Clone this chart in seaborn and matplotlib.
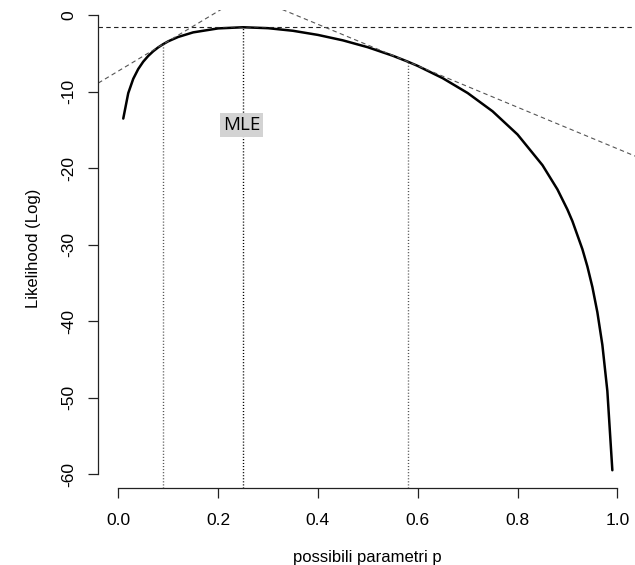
import matplotlib.pyplot as plt
import seaborn as sns

sns.set_style("ticks")
plt.rcParams["font.family"] = ["Liberation Sans", "DejaVu Sans"]
plt.rcParams["text.color"] = "black"
plt.rcParams["axes.labelcolor"] = "black"
plt.rcParams["xtick.labelcolor"] = "black"
plt.rcParams["ytick.labelcolor"] = "black"

# Log-likelihood curve
p_values = [0.01, 0.02, 0.03, 0.04, 0.05, 0.06, 0.07, 0.08, 0.09, 0.10, 0.12, 0.15,
            0.20, 0.25, 0.30, 0.35, 0.40, 0.45, 0.50, 0.55, 0.58, 0.60, 0.65, 0.70,
            0.75, 0.80, 0.85, 0.88, 0.90, 0.91, 0.93, 0.94, 0.95, 0.96, 0.97, 0.98, 0.99]
log_lik = [-13.53, -10.21, -8.34, -7.06, -6.10, -5.35, -4.74, -4.23, -3.81, -3.44, -2.87, -2.27,
           -1.75, -1.60, -1.72, -2.06, -2.60, -3.31, -4.21, -5.32, -6.09, -6.65, -8.25, -10.19,
           -12.58, -15.61, -19.62, -22.79, -25.42, -26.94, -30.60, -32.86, -35.54, -38.84, -43.10, -49.13, -59.48]

# MLE and the two tangent points
mle_p = 0.25
mle_value = -1.60
tangent_p = [0.09, 0.58]
tangent_value = [-3.81, -6.09]
tangent_slope = [39.07, -27.09]

x_ticks = [0.0, 0.2, 0.4, 0.6, 0.8, 1.0]
y_ticks = [0, -10, -20, -30, -40, -50, -60]
x_limits = (-0.04, 1.04)
y_limits = (-61.8, 0.72)

fig = plt.figure(figsize=(6.35, 5.65), dpi=100)
ax = fig.add_axes([98.3 / 635, 77 / 565, 539 / 635, 478.5 / 565])

sns.lineplot(x=p_values, y=log_lik, color="black", linewidth=1.8, ax=ax)

# Max likelihood line and tangents
ax.axhline(mle_value, color="#222222", linestyle=(0, (4, 3)), linewidth=0.8)
for tp, tv, ts in zip(tangent_p, tangent_value, tangent_slope):
    ax.axline((tp, tv), slope=ts, color="#555555", linestyle=(0, (4, 3)), linewidth=0.8)

# Vertical dotted lines
ax.vlines(tangent_p, y_limits[0], tangent_value, color="#555555", linestyle=(0, (0.8, 1.4)), linewidth=1.0)
ax.vlines(mle_p, y_limits[0], mle_value, color="black", linestyle=(0, (0.8, 1.4)), linewidth=1.0)

ax.text(0.247, -14.4, "MLE", family=["Open Sans", "DejaVu Sans"], fontsize=13.5, color="black",
        ha="center", va="center",
        bbox=dict(boxstyle="square,pad=0.15", facecolor="#d3d3d3", edgecolor="none"))

ax.set_xlim(x_limits)
ax.set_ylim(y_limits)
ax.set_xticks(x_ticks)
ax.set_xticklabels([f"{t:.1f}" for t in x_ticks])
ax.set_yticks(y_ticks)
ax.set_yticklabels([str(t) for t in y_ticks], rotation=90, va="center")

ax.tick_params(axis="x", length=7.2, width=0.9, pad=10.5, labelsize=12.5, color="#222222")
ax.tick_params(axis="y", length=7.2, width=0.9, pad=8.5, labelsize=12.5, color="#222222")

sns.despine(ax=ax)
ax.spines["left"].set_bounds(-60, 0)
ax.spines["bottom"].set_bounds(0, 1)
for side in ["left", "bottom"]:
    ax.spines[side].set_linewidth(0.9)
    ax.spines[side].set_color("#222222")

ax.set_xlabel("possibili parametri p", fontsize=12)
ax.xaxis.label.set_va("baseline")
ax.xaxis.set_label_coords(0.5, -0.155)
ax.set_ylabel("Likelihood (Log)", fontsize=12)
ax.yaxis.label.set_va("center")
ax.yaxis.set_label_coords(-0.121, 0.5)

fig.savefig("out.png", dpi=100)
